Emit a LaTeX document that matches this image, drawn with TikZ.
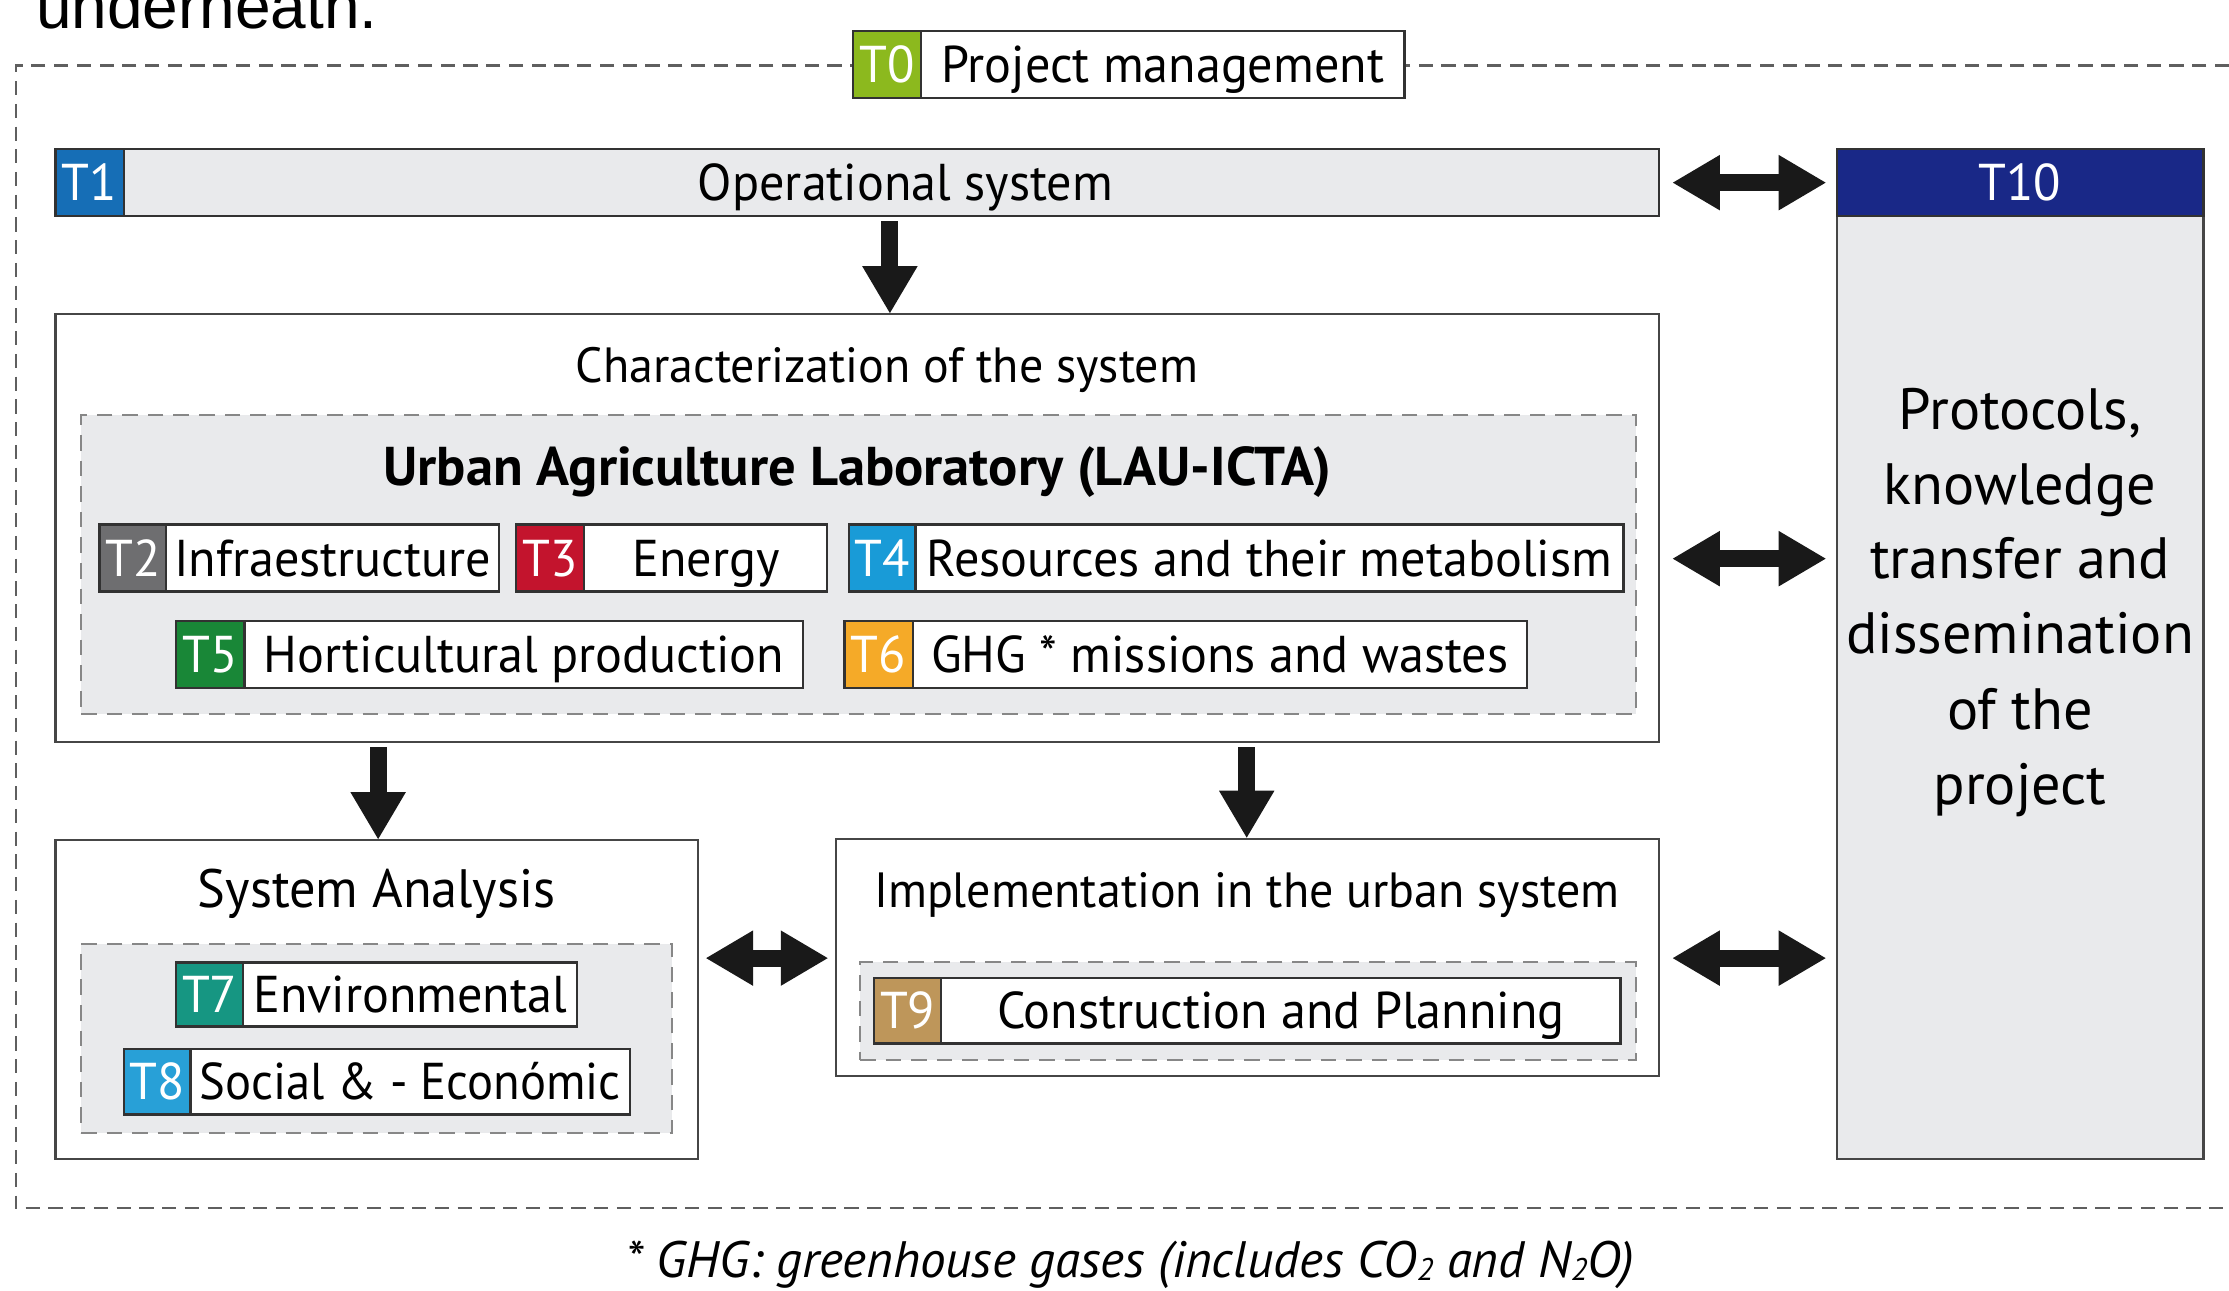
\documentclass[tikz,border=0pt]{standalone}
\usepackage{fontspec}
\setmainfont{PT Sans}
\newfontfamily\condF[FakeStretch=0.97]{PT Sans}
\newfontfamily\condT[FakeStretch=0.94]{PT Sans}
\newfontfamily\arialF{Liberation Sans}
\usetikzlibrary{arrows.meta,calc,fit}
\definecolor{tzero}{RGB}{140,185,30}
\definecolor{tone}{RGB}{22,110,182}
\definecolor{ttwo}{RGB}{110,110,112}
\definecolor{tthree}{RGB}{195,20,45}
\definecolor{tfour}{RGB}{25,155,215}
\definecolor{tfive}{RGB}{25,135,55}
\definecolor{tsix}{RGB}{245,170,40}
\definecolor{tseven}{RGB}{22,150,130}
\definecolor{teight}{RGB}{40,160,215}
\definecolor{tnine}{RGB}{190,150,90}
\definecolor{tten}{RGB}{25,40,135}
\definecolor{lgray}{RGB}{233,234,236}
\definecolor{framecol}{RGB}{70,70,70}
\definecolor{tframecol}{RGB}{50,50,50}
\definecolor{dashcol}{RGB}{135,135,135}
\definecolor{outerdash}{RGB}{95,95,95}
\definecolor{arrowcol}{RGB}{25,25,25}
\newcommand\tbox[9]{%
  \node[tfr, fit={(#2,#5) (#4,#6)}] (#1) {};
  \node[tagfill=#7, fit={(#2,#5) (#3,#6)}] (#1tag) {};
  \node[tagtxt] (#1tl) at (#1tag.center) {#8};
  \node[mtxt] (#1tx) at ($(#3,#5)!0.5!(#4,#6)$) {#9};
}
\begin{document}
\begin{tikzpicture}[x=0.5pt,y=-0.5pt,
  container/.style={draw=framecol, line width=0.75pt, fill=white, inner sep=0pt},
  dashbox/.style={draw=dashcol, line width=0.7pt, dash pattern=on 5.5pt off 3.5pt, fill=lgray, inner sep=0pt},
  tfr/.style={draw=tframecol, line width=0.8pt, fill=white, inner sep=0pt},
  tagfill/.style={fill=#1, draw=tframecol, line width=0.8pt, inner sep=0pt},
  mtxt/.style={inner sep=0pt, font=\condF\fontsize{18.2pt}{22pt}\selectfont, text height=12.7pt, text depth=0pt},
  tagtxt/.style={mtxt, text=white},
  htxt/.style={inner sep=0pt, font=\condF\fontsize{17.4pt}{21pt}\selectfont, text height=12.2pt, text depth=0pt},
  sidetxt/.style={inner sep=0pt, anchor=base, font=\fontsize{20.5pt}{26pt}\selectfont},
  bigarrow/.style={draw=arrowcol, line width=6pt, -{Triangle[length=16.5pt,width=19.5pt,line width=0pt]}},
  dblarrow/.style={draw=arrowcol, line width=6pt, {Triangle[length=16.5pt,width=19.5pt,line width=0pt]}-{Triangle[length=16.5pt,width=19.5pt,line width=0pt]}}
]
\useasboundingbox (0,0) rectangle (1568,908);
% partial caption at the very top
\begin{scope}
\clip (0,0) rectangle (1568,908);
\node[anchor=base west, inner sep=0pt, font=\arialF\fontsize{22.5pt}{26pt}\selectfont] (under) at (25,20) {underneath.};
\end{scope}
% outer dashed frame (open to the right)
\coordinate (otr) at (1568,46);
\coordinate (otl) at (11,46);
\coordinate (obl) at (11,850);
\coordinate (obr) at (1568,850);
\draw[draw=outerdash, line width=0.8pt, dash pattern=on 5pt off 3pt] (otr) -- (otl) -- (obl) -- (obr);
% T0
\tbox{tz}{600}{648}{988}{22}{69}{tzero}{T0}{Project management}
% T1
\node[tfr, fill=lgray, fit={(39,105) (1167,152)}] (t1) {};
\node[tagfill=tone, fit={(39,105) (87,152)}] (t1tag) {};
\node[tagtxt] (t1tl) at (t1tag.center) {T1};
\node[mtxt] (t1tx) at (637,128.5) {Operational system};
% T10
\node[container, fill=lgray, fit={(1292,105) (1550,815)}] (t10) {};
\node[tagfill=tten, fit={(1292,105) (1550,152)}] (t10h) {};
\node[tagtxt] (t10tl) at (t10h.center) {T10};
\node[sidetxt] (p1) at (1421,302) {Protocols,};
\node[sidetxt] (p2) at (1421,355) {knowledge};
\node[sidetxt] (p3) at (1421,407) {transfer and};
\node[sidetxt] (p4) at (1421,460) {dissemination};
\node[sidetxt] (p5) at (1421,513) {of the};
\node[sidetxt] (p6) at (1421,566) {project};
% Characterization
\node[container, fit={(39,221) (1167,522)}] (char) {};
\node[htxt] (chart) at (624,257) {Characterization of the system};
\node[dashbox, fit={(57,292) (1151,502)}] (lab) {};
\node[inner sep=0pt, font=\bfseries\fontsize{19.2pt}{23pt}\selectfont, text height=13.4pt, text depth=0pt] (labt) at (603,328) {Urban Agriculture Laboratory (LAU-ICTA)};
\tbox{tb}{70}{117}{351}{369}{416}{ttwo}{T2}{Infraestructure}
\tbox{tc}{363}{411}{582}{369}{416}{tthree}{T3}{Energy}
\tbox{td}{597}{644}{1142}{369}{416}{tfour}{T4}{Resources and their metabolism}
\tbox{te}{124}{172}{565}{437}{484}{tfive}{T5}{Horticultural production}
\tbox{tf}{594}{642}{1074}{437}{484}{tsix}{T6}{GHG * missions and wastes}
% System analysis
\node[container, fit={(39,591) (491,815)}] (sa) {};
\node[htxt, font=\condF\fontsize{19pt}{23pt}\selectfont, text height=13.3pt] (sat) at (265,625) {System Analysis};
\node[dashbox, fit={(57,664) (473,797)}] (sad) {};
\tbox{tg}{124}{171}{406}{677}{722}{tseven}{T7}{Environmental}
\tbox{th}{87}{134}{443}{738}{784}{teight}{T8}{\condT Social \& - Económic}
% Implementation
\node[container, fit={(588,590) (1167,757)}] (impl) {};
\node[htxt] (implt) at (877,626) {Implementation in the urban system};
\node[dashbox, fit={(605,677) (1151,746)}] (impld) {};
\tbox{ti}{615}{662}{1140}{688}{734}{tnine}{T9}{Construction and Planning}
% arrows
\coordinate (ax1) at (626,0);
\coordinate (ax2) at (266,0);
\coordinate (ax3) at (877,0);
\coordinate (ay2) at (0,393);
\coordinate (ay3) at (0,674);
\draw[bigarrow] ([yshift=-1.5pt]t1.south -| ax1) -- (char.north -| ax1);
\draw[bigarrow] ([yshift=-1.5pt]char.south -| ax2) -- (sa.north -| ax2);
\draw[bigarrow] ([yshift=-1.5pt]char.south -| ax3) -- (impl.north -| ax3);
\draw[dblarrow, shorten <=4.5pt, shorten >=3.5pt] (t1.east) -- (t10.west |- t1.east);
\draw[dblarrow, shorten <=4.5pt, shorten >=3.5pt] (char.east |- ay2) -- (t10.west |- ay2);
\draw[dblarrow, shorten <=4.5pt, shorten >=3.5pt] (impl.east |- ay3) -- (t10.west |- ay3);
\draw[dblarrow, shorten <=2.5pt, shorten >=2.5pt] (sa.east |- ay3) -- (impl.west |- ay3);
% footnote
\node[inner sep=0pt, font=\itshape\fontsize{18pt}{22pt}\selectfont, text height=12.6pt, text depth=0pt] (foot) at (795,886) {* GHG: greenhouse gases (includes CO\raisebox{-0.06em}{\fontsize{11pt}{11pt}\selectfont 2} and N\raisebox{-0.06em}{\fontsize{11pt}{11pt}\selectfont 2}O)};
\end{tikzpicture}
\end{document}
